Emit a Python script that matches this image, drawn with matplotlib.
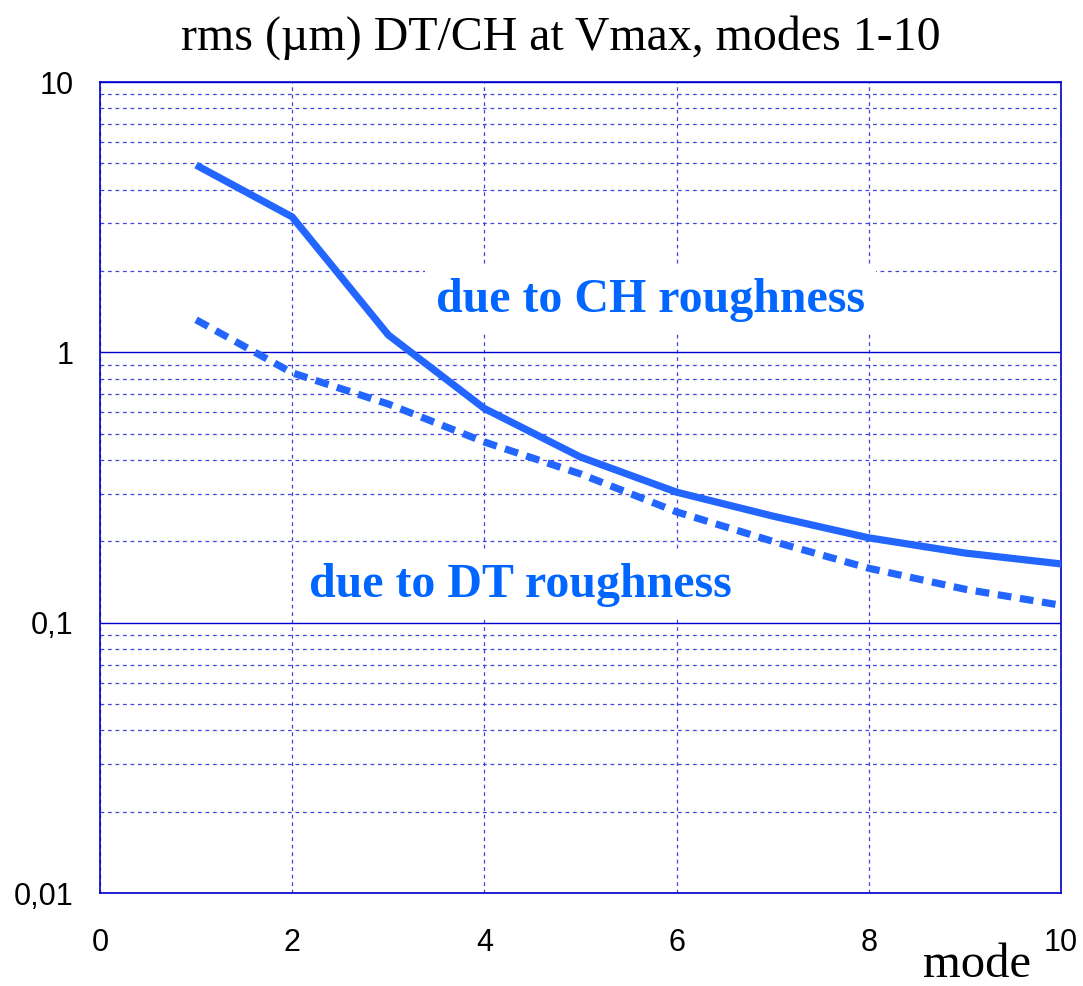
import matplotlib
matplotlib.use("Agg")
import matplotlib.pyplot as plt
from matplotlib.ticker import FixedLocator, FixedFormatter, LogLocator

modes = [1, 2, 3, 4, 5, 6, 7, 8, 9, 10]
rms_ch = [4.93, 3.17, 1.16, 0.62, 0.41, 0.304, 0.248, 0.206, 0.181, 0.165]
rms_dt = [1.32, 0.84, 0.644, 0.466, 0.355, 0.257, 0.200, 0.159, 0.133, 0.116]

y_ticks = [0.01, 0.1, 1, 10]
y_labels = ['0,01', '0,1', '1', '10']
x_ticks = [0, 2, 4, 6, 8, 10]

line_color = '#2266ff'
text_color = '#0066ff'
axis_color = '#0000cc'
grid_color = '#4444dd'

fig = plt.figure(figsize=(10.83, 9.86), dpi=100)
ax = fig.add_axes([0.0923, 0.0943, 0.8874, 0.8225])

ax.plot(modes, rms_ch, color=line_color, lw=5.2, solid_capstyle='butt', zorder=5)
ax.plot(modes, rms_dt, color=line_color, lw=5.2, ls=(0, (1.9, 1.2)), zorder=5)

ax.set_yscale('log')
ax.set_xlim(0, 10)
ax.set_ylim(0.01, 10)

ax.yaxis.set_major_locator(FixedLocator(y_ticks))
ax.yaxis.set_major_formatter(FixedFormatter(y_labels))
ax.yaxis.set_minor_locator(LogLocator(base=10, subs=range(2, 10)))
ax.xaxis.set_major_locator(FixedLocator(x_ticks))

ax.grid(True, which='major', axis='y', color=axis_color, lw=1.0, ls='-')
ax.grid(True, which='minor', axis='y', color=grid_color, lw=0.9, ls=(0, (3, 3)))
ax.grid(True, which='major', axis='x', color=grid_color, lw=0.9, ls=(0, (3, 3)))
ax.set_axisbelow(True)

for s in ax.spines.values():
    s.set_color(axis_color)
    s.set_linewidth(1.2)

ax.tick_params(which='both', length=0)
ax.tick_params(axis='y', labelsize=22, pad=19)
ax.tick_params(axis='x', labelsize=22, pad=25)
for lab in ax.get_xticklabels() + ax.get_yticklabels():
    lab.set_fontfamily('Liberation Sans')

ax.set_title('rms (\u00b5m) DT/CH at Vmax, modes 1-10', fontsize=34.5,
             family='Liberation Serif', pad=23, x=0.48)

ax.text(5.73, 1.56, 'due to CH roughness', color=text_color, fontsize=34.5,
        weight='bold', family='Liberation Serif', ha='center', va='center',
        zorder=3, bbox=dict(facecolor='white', edgecolor='none', pad=8))
ax.text(4.37, 0.138, 'due to DT roughness', color=text_color, fontsize=34.5,
        weight='bold', family='Liberation Serif', ha='center', va='center',
        zorder=3, bbox=dict(facecolor='white', edgecolor='none', pad=8))

fig.text(0.902, 0.009, 'mode', fontsize=35, family='Liberation Serif',
         ha='center', va='baseline')

fig.savefig('out.png', dpi=100)
